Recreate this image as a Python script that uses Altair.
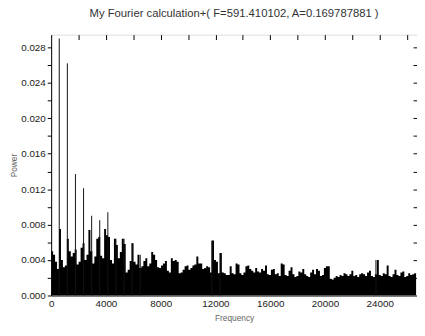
import altair as alt
import pandas as pd

# ---- data ----
FREQ_STEP = 143.3  # Hz per spectrum bin
POWER_MILLI = [
    5.0, 4.6, 3.8, 3.0, 7.5, 4.0, 3.2, 3.4, 6.4, 5.0,
    4.4, 4.8, 5.2, 3.5, 3.8, 5.4, 5.9, 4.0, 4.6, 7.4,
    5.0, 3.6, 4.4, 6.4, 6.6, 4.5, 4.2, 7.5, 6.8, 6.6,
    4.0, 3.6, 6.4, 5.7, 4.2, 4.9, 6.4, 5.8, 2.6, 2.9,
    3.9, 5.9, 3.8, 3.5, 4.6, 3.1, 3.3, 3.9, 4.2, 3.3,
    3.6, 4.9, 4.6, 4.0, 3.2, 3.1, 3.4, 3.6, 3.9, 2.8,
    2.6, 4.2, 3.9, 4.0, 3.8, 2.5, 2.6, 2.9, 3.3, 3.4,
    2.9, 3.1, 3.4, 3.5, 4.4, 3.6, 3.6, 3.0, 3.1, 3.3,
    3.2, 2.6, 6.2, 4.0, 3.8, 2.5, 4.8, 2.6, 2.5, 2.3,
    2.3, 3.3, 2.5, 2.4, 3.6, 3.5, 2.5, 2.3, 2.6, 3.3,
    3.4, 3.0, 2.8, 2.6, 3.1, 2.7, 2.6, 3.0, 2.8, 3.4,
    2.4, 2.3, 2.9, 3.0, 2.4, 2.5, 2.2, 3.6, 3.5, 2.3,
    2.2, 2.8, 3.2, 2.4, 2.1, 2.2, 2.7, 2.6, 3.0, 2.4,
    2.2, 2.1, 2.6, 2.9, 2.4, 3.0, 2.8, 2.2, 2.3, 3.1,
    3.3, 3.3, 1.9, 1.8, 2.0, 2.2, 2.1, 2.3, 2.2, 2.5,
    2.4, 2.2, 2.4, 2.8, 2.2, 2.3, 2.1, 2.4, 2.5, 2.4,
    2.2, 2.6, 2.8, 2.2, 2.1, 2.4, 4.0, 2.3, 2.2, 2.5,
    2.4, 3.4, 2.2, 2.1, 2.4, 2.9, 2.3, 2.2, 2.6, 2.7,
    2.1, 2.2, 2.5, 2.3, 2.4, 2.5,
]
SPIKE_FREQ = [591, 1183, 1774, 2366, 2957, 3548, 4140, 4731, 5323, 5914, 6506, 11730, 12330, 23720]
SPIKE_POWER = [0.0290, 0.0262, 0.0137, 0.0121, 0.0090, 0.0085, 0.0094, 0.0064, 0.0064, 0.0059, 0.0046, 0.0062, 0.0048, 0.0040]

X_LABELS = [0, 4000, 8000, 12000, 16000, 20000, 24000]
X_MINOR = [2000, 4000, 6000, 8000, 10000, 12000, 14000, 16000, 18000, 20000, 22000, 24000, 26000]
Y_TICKS = [0.0, 0.002, 0.004, 0.006, 0.008, 0.010, 0.012, 0.014, 0.016, 0.018, 0.020, 0.022, 0.024, 0.026, 0.028]
X_MAX = 26720
Y_MAX = 0.02944
TITLE = "My Fourier calculation+( F=591.410102, A=0.169787881 )"

FONT = "Liberation Sans"

# step-after area: one point per bin start, plus the closing edge of the last bin
n = len(POWER_MILLI)
bins = pd.DataFrame({
    "freq": [i * FREQ_STEP for i in range(n + 1)],
    "power": [p / 1000.0 for p in POWER_MILLI] + [POWER_MILLI[-1] / 1000.0],
})
spikes = pd.DataFrame({"freq": SPIKE_FREQ, "power": SPIKE_POWER})

xscale = alt.Scale(domain=[0, X_MAX], nice=False, zero=False)
yscale = alt.Scale(domain=[0, Y_MAX], nice=False)

area = alt.Chart(bins).mark_area(color="black", interpolate="step-after", clip=True).encode(
    x=alt.X("freq:Q", scale=xscale, title="Frequency",
            axis=alt.Axis(values=X_LABELS, format="d", ticks=False, labelFontSize=10, labelFont=FONT,
                          labelColor="#222", labelPadding=3, domainColor="black",
                          grid=False, titleFont=FONT, titleFontSize=8.5, titleFontWeight="normal",
                          titleColor="#666", titlePadding=6, labelFlush=False)),
    y=alt.Y("power:Q", scale=yscale, title="Power",
            axis=alt.Axis(values=Y_TICKS, tickSize=4, tickColor="black", domainColor="black",
                          labelExpr="round(datum.value*1000) % 4 == 0 ? format(datum.value, '.3f') : ''",
                          labelFontSize=10, labelFont=FONT, labelColor="#222", labelPadding=2,
                          grid=False, titleFont=FONT, titleFontSize=8.5, titleFontWeight="normal",
                          titleColor="#666", titlePadding=2)),
    y2=alt.datum(0),
)

spk = alt.Chart(spikes).mark_rule(color="#111", strokeWidth=1.0).encode(
    x=alt.X("freq:Q", scale=xscale, title=None,
            axis=alt.Axis(orient="top", values=X_MINOR, labels=False, domain=False, ticks=True,
                          tickSize=5, tickColor="black", offset=-5, grid=False)),
    y=alt.Y("power:Q", scale=yscale, title=None,
            axis=alt.Axis(orient="right", values=Y_TICKS[1:], labels=False, domain=False, ticks=True,
                          tickSize=4, tickColor="black", offset=-4, grid=False)),
    y2=alt.datum(0),
)

chart = alt.layer(area, spk).resolve_axis(x="independent", y="independent").properties(
    width=373,
    height=266,
    title=alt.TitleParams(TITLE, fontSize=11.5, font=FONT, fontWeight="normal", color="#333",
                          anchor="middle", offset=15),
    autosize=alt.AutoSizeParams(type="none"),
    padding={"left": 44, "top": 24, "right": 0, "bottom": 30},
).configure_view(stroke="black", strokeWidth=1).configure(background="white")

chart.save("out.html", embed_options={"renderer": "svg", "actions": False})
